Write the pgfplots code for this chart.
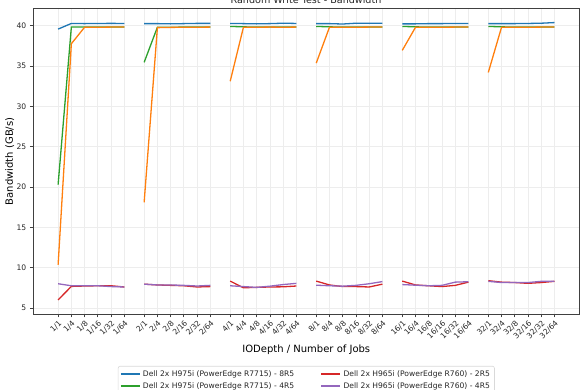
\documentclass[border=0pt]{standalone}
\usepackage{fontspec}
\setmainfont{DejaVu Sans}
\usepackage{pgfplots}
\pgfplotsset{compat=1.18}
\usepackage{pgfplotstable}
\definecolor{mblue}{HTML}{1F77B4}
\definecolor{morange}{HTML}{FF7F0E}
\definecolor{mgreen}{HTML}{2CA02C}
\definecolor{mred}{HTML}{D62728}
\definecolor{mpurple}{HTML}{9467BD}

\pgfplotstableread{
x b g o r p
0 39.57 20.3 10.36 6.0 8.0
1 40.27 39.82 37.76 7.67 7.75
2 40.25 39.82 39.8 7.72 7.75
3 40.27 39.82 39.8 7.75 7.75
4 40.28 39.82 39.82 7.75 7.65
5 40.27 39.82 39.82 7.6 7.6
5.75 nan nan nan nan nan
6.5 40.25 35.45 18.1 7.95 7.95
7.5 40.25 39.8 39.75 7.85 7.85
8.5 40.22 39.8 39.78 7.8 7.85
9.5 40.25 39.82 39.8 7.75 7.8
10.5 40.28 39.82 39.8 7.6 7.72
11.5 40.28 39.82 39.82 7.65 7.8
12.25 nan nan nan nan nan
13 40.27 39.9 33.1 8.33 7.75
14 40.25 39.85 39.8 7.5 7.65
15 40.22 39.82 39.8 7.55 7.55
16 40.25 39.82 39.82 7.6 7.7
17 40.3 39.82 39.8 7.62 7.9
18 40.27 39.82 39.82 7.72 8.05
18.75 nan nan nan nan nan
19.5 40.25 39.9 35.35 8.33 7.82
20.5 40.25 39.85 39.8 7.85 7.75
21.5 40.2 39.82 39.8 7.65 7.7
22.5 40.3 39.82 39.8 7.65 7.8
23.5 40.3 39.82 39.82 7.6 8.0
24.5 40.3 39.82 39.82 7.95 8.27
25.25 nan nan nan nan nan
26 40.22 39.9 36.93 8.33 7.9
27 40.22 39.85 39.8 7.85 7.82
28 40.25 39.82 39.8 7.75 7.75
29 40.25 39.82 39.8 7.65 7.8
30 40.27 39.82 39.82 7.8 8.2
31 40.27 39.82 39.82 8.2 8.25
31.75 nan nan nan nan nan
32.5 40.25 39.9 34.2 8.38 8.3
33.5 40.25 39.85 39.8 8.2 8.15
34.5 40.25 39.82 39.8 8.15 8.15
35.5 40.27 39.82 39.8 8.05 8.15
36.5 40.3 39.82 39.82 8.15 8.3
37.5 40.38 39.82 39.82 8.3 8.3
}\data

\begin{document}
\begin{tikzpicture}
\begin{axis}[
  at={(33.3pt,76pt)}, anchor=south west,
  scale only axis, width=546pt, height=305.3pt,
  xmin=-1.875, xmax=39.375, ymin=4.25, ymax=42.1,
  xtick={0,1,2,3,4,5,6.5,7.5,8.5,9.5,10.5,11.5,13,14,15,16,17,18,19.5,20.5,21.5,22.5,23.5,24.5,26,27,28,29,30,31,32.5,33.5,34.5,35.5,36.5,37.5},
  xticklabels={1/1,1/4,1/8,1/16,1/32,1/64,2/1,2/4,2/8,2/16,2/32,2/64,4/1,4/4,4/8,4/16,4/32,4/64,8/1,8/4,8/8,8/16,8/32,8/64,16/1,16/4,16/8,16/16,16/32,16/64,32/1,32/4,32/8,32/16,32/32,32/64},
  ytick={5,10,15,20,25,30,35,40},
  tick pos=left, tick align=outside, major tick length=3.5pt,
  every tick/.style={black!75, line width=0.8pt},
  axis line style={black!75, line width=0.8pt},
  grid=major, major grid style={gray!14, line width=0.8pt},
  unbounded coords=jump,
  /pgf/number format/assume math mode=true,
  xticklabel style={rotate=45, anchor=north east, font=\fontsize{7.6}{8}\selectfont, inner sep=1.5pt, text=black!85},
  yticklabel style={font=\fontsize{7.6}{8}\selectfont, text=black!85},
  xlabel={IODepth / Number of Jobs},
  ylabel={Bandwidth (GB/s)},
  label style={font=\fontsize{7.8}{9}\selectfont, text=black!85},
  every axis x label/.style={at={(axis description cs:0.5,-0.118)}, anchor=center},
  every axis y label/.style={at={(axis description cs:-0.043,0.5)}, rotate=90, anchor=center},
  legend columns=2,
  legend cell align=left,
  legend image code/.code={\draw[#1] (0pt,0pt) -- (19pt,0pt);},
  legend style={at={(0.5,-0.17)}, anchor=north, draw=gray!30, line width=0.6pt, rounded corners=2pt,
    font=\fontsize{7.6}{8}\selectfont, text=black!85,
    inner xsep=2pt, inner ysep=2pt,
    nodes={inner xsep=2.5pt, inner ysep=2.3pt},
    /tikz/every even column/.append style={column sep=24pt}},
]
\addplot[mblue, line width=1.3pt, forget plot] table[x=x, y=b] {\data};
\addplot[mgreen, line width=1.3pt, forget plot] table[x=x, y=g] {\data};
\addplot[morange, line width=1.3pt, forget plot] table[x=x, y=o] {\data};
\addplot[mred, line width=1.3pt, forget plot] table[x=x, y=r] {\data};
\addplot[mpurple, line width=1.3pt, forget plot] table[x=x, y=p] {\data};
\addlegendimage{mblue, line width=1.3pt}
\addlegendentry{Dell 2x H975i (PowerEdge R7715) - 8R5}
\addlegendimage{mred, line width=1.3pt}
\addlegendentry{Dell 2x H965i (PowerEdge R760) - 2R5}
\addlegendimage{mgreen, line width=1.3pt}
\addlegendentry{Dell 2x H975i (PowerEdge R7715) - 4R5}
\addlegendimage{mpurple, line width=1.3pt}
\addlegendentry{Dell 2x H965i (PowerEdge R760) - 4R5}
\addlegendimage{morange, line width=1.3pt}
\addlegendentry{Dell 2x H975i (PowerEdge R7715) - 2R5}
\end{axis}
\node[anchor=base, font=\fontsize{9.6}{11}\selectfont, text=black!85] at (306pt,386pt) {Random Write Test - Bandwidth};
\pgfresetboundingbox
\path[use as bounding box] (0pt,0pt) rectangle (585pt,390pt);
\end{tikzpicture}
\end{document}
